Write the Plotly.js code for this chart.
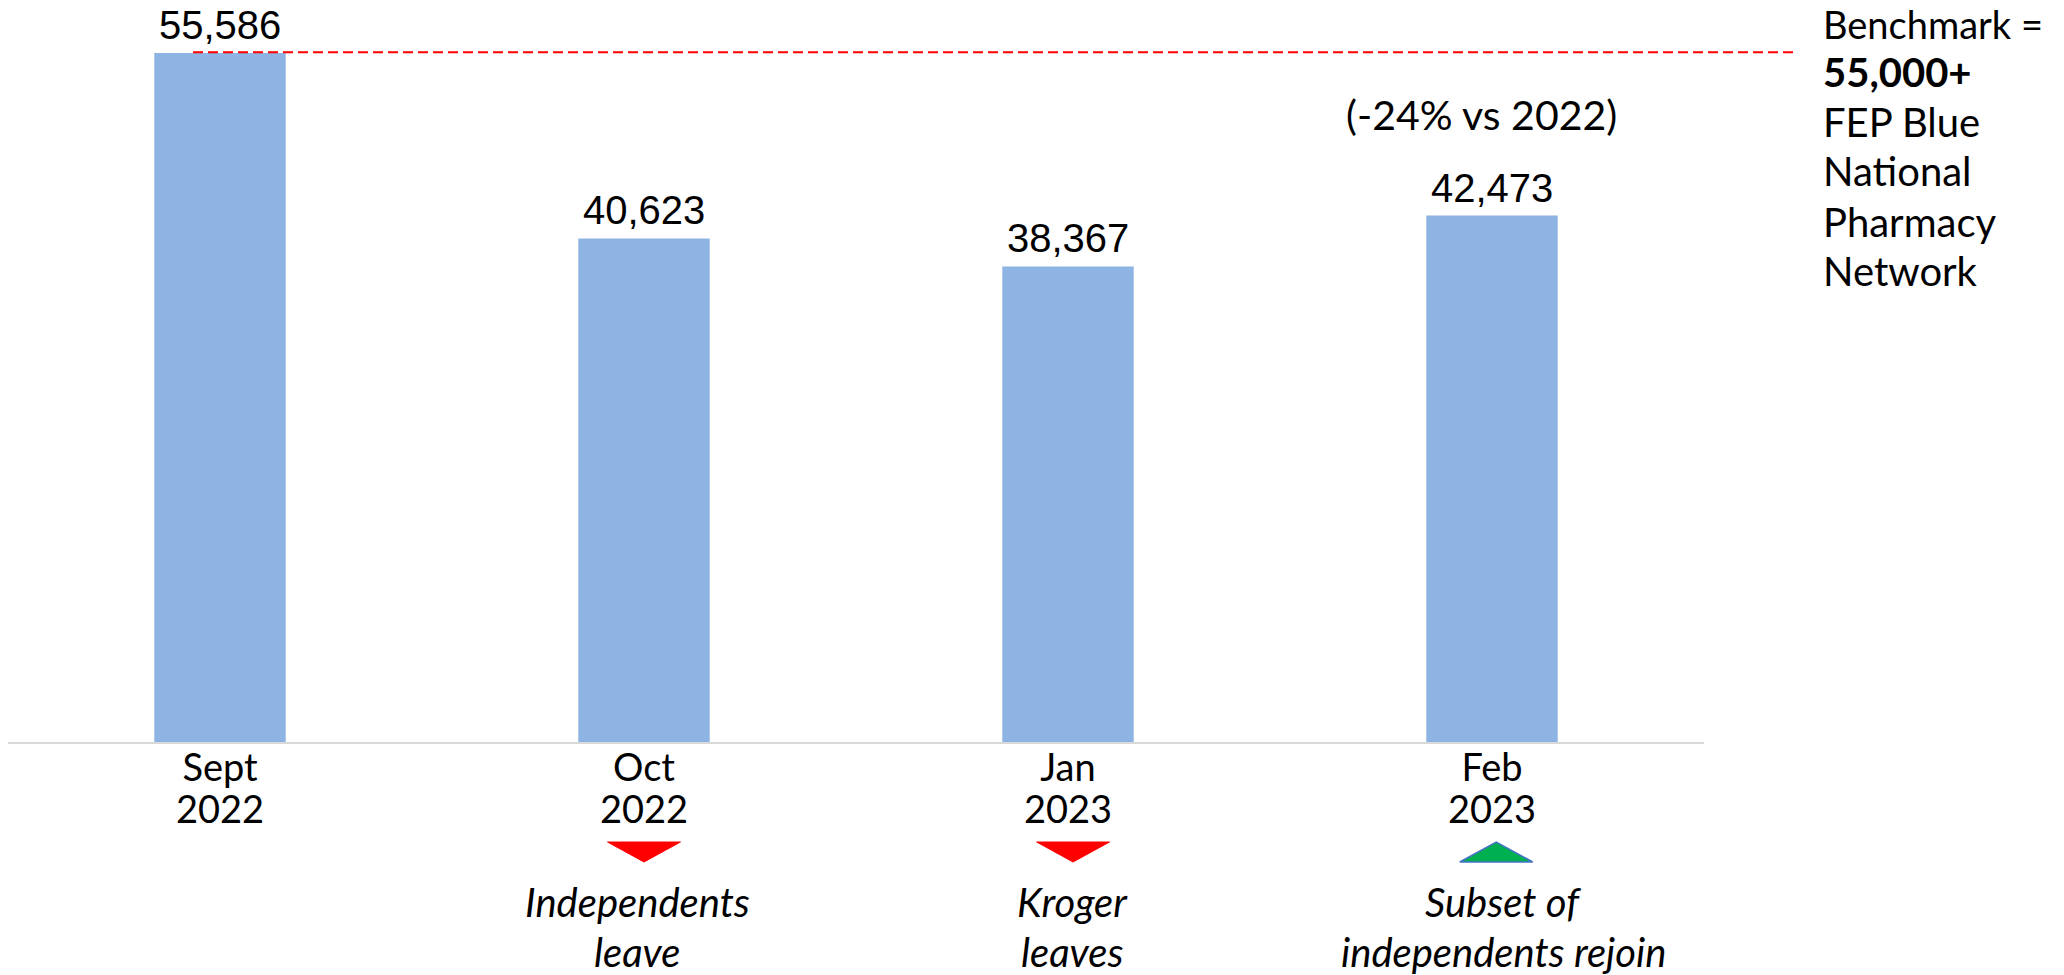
<!DOCTYPE html>
<html>
<head>
<meta charset="utf-8">
<script src="https://cdn.plot.ly/plotly-3.0.1.min.js"></script>
<style>
  html, body { margin: 0; padding: 0; background: #ffffff; }
  #chart { width: 2064px; height: 975px; }
</style>
</head>
<body>
<div id="chart"></div>
<script>
// ---- data ----
const months = ["Sept", "Oct", "Jan", "Feb"];
const years = ["2022", "2022", "2023", "2023"];
const pharmacies = [55586, 40623, 38367, 42473];
const valueLabels = ["55,586", "40,623", "38,367", "42,473"];
const changeDirection = ["", "down", "down", "up"];
const eventNotes = [[], ["Independents", "leave"], ["Kroger", "leaves"], ["Subset of", "independents rejoin"]];
const benchmarkLevel = 55650;
const benchmarkNote = ["Benchmark =", "<b>55,000+</b>", "FEP Blue", "National", "Pharmacy", "Network"];
const changeNote = "(-24% vs 2022)";

// ---- layout helpers (pixel geometry) ----
const W = 2064, H = 975;
const mL = 8, mR = 360, mT = 0, mB = 233;
const plotW = W - mL - mR, plotH = H - mT - mB;
const pxToPaperX = px => (px - mL) / plotW;
const pxToPaperY = py => (H - mB - py) / plotH;

const idx = months.map((_, i) => i);

const bar = {
  type: 'bar',
  x: idx,
  y: pharmacies,
  width: 0.31,
  marker: { color: '#8eb4e3' },
  hoverinfo: 'skip'
};
// invisible helper so the second (year) axis is drawn
const yearAxisTrace = {
  type: 'scatter', mode: 'markers', x: idx, y: idx.map(() => 0),
  xaxis: 'x2', yaxis: 'y', marker: { opacity: 0, size: 1 }, hoverinfo: 'skip'
};

const labelFont = { family: 'Liberation Sans, Arial, sans-serif', size: 40, color: '#000000' };
const textFont = { family: 'Lato, sans-serif', size: 40, color: '#000000' };
const tickFont = { family: 'Lato, sans-serif', size: 38, color: '#000000' };

const annotations = [];
const noteShift = [0, -7, 4, 11];
const noteBaselines = [918, 968];
idx.forEach(i => {
  annotations.push({
    x: i, y: pharmacies[i], xref: 'x', yref: 'y',
    text: valueLabels[i], showarrow: false,
    xanchor: 'center', yanchor: 'bottom', yshift: 4,
    font: labelFont
  });
  eventNotes[i].forEach((line, k) => {
    annotations.push({
      x: i, xref: 'x', y: pxToPaperY(noteBaselines[k] - 42), yref: 'paper',
      xshift: noteShift[i],
      text: '<i>' + line + '</i>', showarrow: false,
      xanchor: 'center', yanchor: 'top',
      font: textFont
    });
  });
});
annotations.push({
  x: pharmacies.length - 1, xref: 'x', y: pxToPaperY(131 - 43), yref: 'paper',
  xshift: -11,
  text: changeNote, showarrow: false, xanchor: 'center', yanchor: 'top',
  font: { family: 'Lato, sans-serif', size: 41, color: '#000000' }
});
const benchBaselines = [39, 88, 138, 187, 238, 287];
benchmarkNote.forEach((line, k) => {
  annotations.push({
    x: pxToPaperX(1821), xref: 'paper', y: pxToPaperY(benchBaselines[k] - (k === 0 ? 40 : 42)), yref: 'paper',
    text: line, showarrow: false, xanchor: 'left', yanchor: 'top', align: 'left',
    font: k === 0 ? { family: 'Lato, sans-serif', size: 38, color: '#000000' } : textFont
  });
});

const shapes = [{
  type: 'line', xref: 'paper', yref: 'y',
  x0: pxToPaperX(193), x1: pxToPaperX(1798),
  y0: benchmarkLevel, y1: benchmarkLevel,
  line: { color: '#ff0000', width: 2, dash: '10px,5px' }
}];
const triHalf = 0.086;
const triShift = [0, 0, 0.012, 0.01];
const yTop = pxToPaperY(842), yBot = pxToPaperY(862);
idx.forEach(i => {
  const c = i + triShift[i];
  if (changeDirection[i] === 'down') {
    shapes.push({
      type: 'path', xref: 'x', yref: 'paper',
      path: `M ${c - triHalf} ${yTop} L ${c + triHalf} ${yTop} L ${c} ${yBot} Z`,
      fillcolor: '#ff0000', line: { color: '#ff0000', width: 1 }
    });
  } else if (changeDirection[i] === 'up') {
    shapes.push({
      type: 'path', xref: 'x', yref: 'paper',
      path: `M ${c - triHalf} ${yBot} L ${c + triHalf} ${yBot} L ${c} ${yTop} Z`,
      fillcolor: '#00b050', line: { color: '#4472c4', width: 1.5 }
    });
  }
});

const layout = {
  width: W, height: H,
  margin: { l: mL, r: mR, t: mT, b: mB, pad: 0 },
  paper_bgcolor: '#ffffff', plot_bgcolor: '#ffffff',
  showlegend: false,
  xaxis: {
    type: 'linear', range: [-0.5, 3.5],
    tickvals: idx, ticktext: months,
    showgrid: false, zeroline: false,
    showline: true, linecolor: '#d9d9d9', linewidth: 2,
    ticks: '', tickfont: tickFont, ticklabelstandoff: -9, fixedrange: true
  },
  xaxis2: {
    type: 'linear', range: [-0.5, 3.5], overlaying: 'x', anchor: 'y', side: 'bottom',
    tickvals: idx, ticktext: years,
    showgrid: false, zeroline: false, showline: false,
    ticks: '', tickfont: tickFont, ticklabelstandoff: 42, fixedrange: true
  },
  yaxis: {
    range: [0, 59863], visible: false, showgrid: false, zeroline: false, fixedrange: true
  },
  annotations: annotations,
  shapes: shapes
};

Plotly.newPlot('chart', [bar, yearAxisTrace], layout, { displayModeBar: false, staticPlot: true });
</script>
</body>
</html>
